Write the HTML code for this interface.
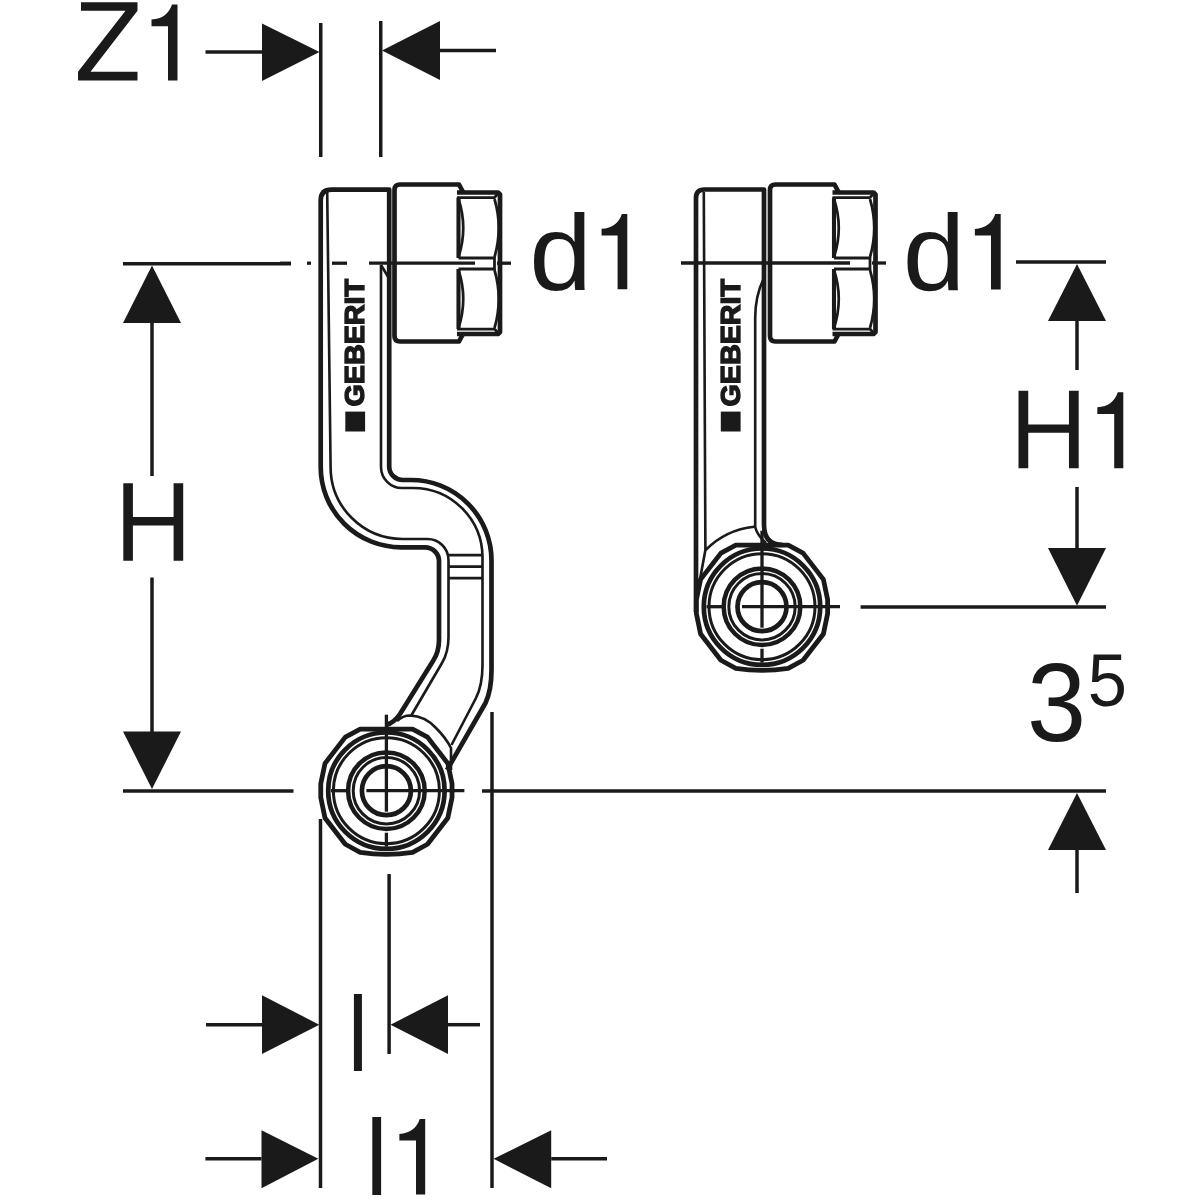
<!DOCTYPE html>
<html><head><meta charset="utf-8"><style>
html,body{margin:0;padding:0;background:#fff;}
svg{display:block;will-change:transform;}
text{font-family:"Liberation Sans",sans-serif;fill:#1a1a1a;}
</style></head><body>
<svg width="1200" height="1200" viewBox="0 0 1200 1200">
<rect width="1200" height="1200" fill="#fff"/>
<g fill="none" stroke="#1a1a1a" stroke-linecap="butt" stroke-linejoin="round">
<line x1="205.5" y1="52" x2="262" y2="52" stroke-width="3.5"/>
<polygon points="262,23.5 262,81 319.5,52" fill="#1a1a1a" stroke="none"/>
<line x1="320.75" y1="23" x2="320.75" y2="157" stroke-width="3.5"/>
<line x1="380.75" y1="21" x2="380.75" y2="157" stroke-width="3.5"/>
<polygon points="382,50.5 440,21 440,80" fill="#1a1a1a" stroke="none"/>
<line x1="440" y1="50.5" x2="496" y2="50.5" stroke-width="3.5"/>
<line x1="123" y1="263.7" x2="291" y2="263.7" stroke-width="3.5"/>
<polygon points="152,265.5 123,323 181,323" fill="#1a1a1a" stroke="none"/>
<line x1="152" y1="322" x2="152" y2="476" stroke-width="3.5"/>
<line x1="152" y1="577.5" x2="152" y2="732" stroke-width="3.5"/>
<polygon points="123,731.5 181,731.5 152,789" fill="#1a1a1a" stroke="none"/>
<line x1="123" y1="791" x2="293.5" y2="791" stroke-width="3.5"/>
<line x1="1016" y1="262" x2="1106" y2="262" stroke-width="3.5"/>
<polygon points="1077,264 1048,321 1106,321" fill="#1a1a1a" stroke="none"/>
<line x1="1077" y1="321" x2="1077" y2="370" stroke-width="3.5"/>
<line x1="1077" y1="487" x2="1077" y2="548" stroke-width="3.5"/>
<polygon points="1048,548 1106,548 1077,605.7" fill="#1a1a1a" stroke="none"/>
<line x1="860.6" y1="607" x2="1106" y2="607" stroke-width="3.5"/>
<line x1="482" y1="791" x2="1106" y2="791" stroke-width="3.5"/>
<polygon points="1077,793 1048,850 1106,850" fill="#1a1a1a" stroke="none"/>
<line x1="1077" y1="850" x2="1077" y2="893" stroke-width="3.5"/>
<line x1="320.5" y1="819" x2="320.5" y2="1188" stroke-width="3.5"/>
<line x1="492" y1="712" x2="492" y2="1188" stroke-width="3.5"/>
<line x1="389.1" y1="874" x2="389.1" y2="1054" stroke-width="3.5"/>
<line x1="206" y1="1024.7" x2="262" y2="1024.7" stroke-width="3.5"/>
<polygon points="262,995.3 262,1054 319.3,1024.7" fill="#1a1a1a" stroke="none"/>
<polygon points="390.5,1024.7 448,995.3 448,1054" fill="#1a1a1a" stroke="none"/>
<line x1="448" y1="1024.7" x2="480" y2="1024.7" stroke-width="3.5"/>
<line x1="205.4" y1="1158.8" x2="261.5" y2="1158.8" stroke-width="3.5"/>
<polygon points="261.5,1130.2 261.5,1188.2 318.3,1158.8" fill="#1a1a1a" stroke="none"/>
<polygon points="493.6,1158.8 551.2,1130.2 551.2,1188.2" fill="#1a1a1a" stroke="none"/>
<line x1="551.2" y1="1158.8" x2="607" y2="1158.8" stroke-width="3.5"/>
<path d="M463,192 L459,184.5 H400 Q394.5,184.5 394.5,190 V336 Q394.5,341.5 400,341.5 H459 L463,334" stroke-width="4.7"/>
<path d="M457,192.5 H498 L500,194.5 V332 L498,334 H457" stroke-width="4.7"/>
<path d="M457,197.5 H495 M457,329 H495 M494.5,257 V270 M494.5,197.5 L499,192.5 M494.5,329 L499,334" stroke-width="2.75"/>
<path d="M458.5,197.5 V258 M458.5,269 V329" stroke-width="4.1"/>
<path d="M458.5,258 H494.5 M458.5,269 H494.5" stroke-width="3.0"/>
<path d="M458.5,199 Q468,228 458.5,257 M494.5,199 Q503,228 494.5,257" stroke-width="2.75"/>
<path d="M458.5,270 Q468,299 458.5,328 M494.5,270 Q503,299 494.5,328" stroke-width="2.75"/>
<path d="M838.5,192 L834.5,184.5 H775.5 Q770.0,184.5 770.0,190 V336 Q770.0,341.5 775.5,341.5 H834.5 L838.5,334" stroke-width="4.7"/>
<path d="M832.5,192.5 H873.5 L875.5,194.5 V332 L873.5,334 H832.5" stroke-width="4.7"/>
<path d="M832.5,197.5 H870.5 M832.5,329 H870.5 M870.0,257 V270 M870.0,197.5 L874.5,192.5 M870.0,329 L874.5,334" stroke-width="2.75"/>
<path d="M834.0,197.5 V258 M834.0,269 V329" stroke-width="4.1"/>
<path d="M834.0,258 H870.0 M834.0,269 H870.0" stroke-width="3.0"/>
<path d="M834.0,199 Q843.5,228 834.0,257 M870.0,199 Q878.5,228 870.0,257" stroke-width="2.75"/>
<path d="M834.0,270 Q843.5,299 834.0,328 M870.0,270 Q878.5,299 870.0,328" stroke-width="2.75"/>
<path d="M320.7,467 V200.5 Q320.7,189.6 331.5,189.6 H389.2 V467 A13.5,13.5 0 0 0 403,480 H411 A80.5,80.5 0 0 1 491.5,560.5 V670 Q491.5,690 485.5,703 L447,770" stroke-width="4.7"/>
<path d="M320.7,467 A80.3,80.3 0 0 0 401,547.3 H425 A14,14 0 0 1 439,561 V640 Q439,652 433,661 L400,714 Q394,723 386,725" stroke-width="4.7"/>
<path d="M327.2,192 L330.6,467 A72,72 0 0 0 403,539 H427 A21,21 0 0 1 448.5,560 V637 Q448.5,652 442,663 L411,716" stroke-width="2.62"/>
<path d="M381,265 V467 A21,21 0 0 0 402,488 H413 A69.5,69.5 0 0 1 482.5,557 V665 Q482.5,685 476,698 L451.5,745" stroke-width="2.62"/>
<path d="M381,265 L390,280" stroke-width="2.62"/>
<path d="M448.5,555 H482.5 M448.5,566.5 H482.5 M448.5,578 H482.5" stroke-width="2.75"/>
<path d="M397,721 Q403,715.5 410,715.5 Q425,716 436,728 Q446,738 451,748 V770" stroke-width="2.62"/>
<path d="M696,612 V198 Q696,189.5 704.5,189.5 H764 V525 Q764,545 783,545" stroke-width="4.7"/>
<path d="M703.8,192 L705.4,550 L698,590" stroke-width="2.62"/>
<path d="M763.5,279 Q755.2,296 755.2,318 V527 Q757,535 766,543" stroke-width="2.62"/>
<path d="M754.2,526.7 A80,80 0 0 0 705.6,550" stroke-width="2.62"/>
<path d="M412.58,729.03 L427.49,737.15 L447.79,763.37 L452.04,783.80 L452.04,797.60 L447.79,818.03 L427.49,844.25 L412.58,852.37 A170,170 0 0 1 360.22,852.37 L345.31,844.25 L325.01,818.03 L320.76,797.60 L320.76,783.80 L325.01,763.37 L345.31,737.15 L360.22,729.03 Z" stroke-width="4.8"/>
<circle cx="386.4" cy="790.7" r="58.2" stroke-width="4.7"/>
<circle cx="386.4" cy="790.7" r="53" stroke-width="3.0"/>
<circle cx="386.4" cy="790.7" r="38.3" stroke-width="4.5"/>
<circle cx="386.4" cy="790.7" r="33.2" stroke-width="3.0"/>
<circle cx="386.4" cy="790.7" r="24.5" stroke-width="4.7"/>
<line x1="330.9" y1="790.7" x2="346.9" y2="790.7" stroke-width="3.3"/>
<line x1="366.4" y1="790.7" x2="464.4" y2="790.7" stroke-width="3.3"/>
<line x1="386.4" y1="714.7" x2="386.4" y2="811.7" stroke-width="3.3"/>
<line x1="386.4" y1="832.7" x2="386.4" y2="846.7" stroke-width="3.3"/>
<path d="M788.18,545.03 L803.09,553.15 L823.39,579.37 L827.64,599.80 L827.64,613.60 L823.39,634.03 L803.09,660.25 L788.18,668.37 A170,170 0 0 1 735.82,668.37 L720.91,660.25 L700.61,634.03 L696.36,613.60 L696.36,599.80 L700.61,579.37 L720.91,553.15 L735.82,545.03 Z" stroke-width="4.8"/>
<circle cx="762" cy="606.7" r="58.2" stroke-width="4.7"/>
<circle cx="762" cy="606.7" r="53" stroke-width="3.0"/>
<circle cx="762" cy="606.7" r="38.3" stroke-width="4.5"/>
<circle cx="762" cy="606.7" r="33.2" stroke-width="3.0"/>
<circle cx="762" cy="606.7" r="24.5" stroke-width="4.7"/>
<line x1="706.5" y1="606.7" x2="722.5" y2="606.7" stroke-width="3.3"/>
<line x1="742" y1="606.7" x2="840" y2="606.7" stroke-width="3.3"/>
<line x1="762" y1="530.7" x2="762" y2="627.7" stroke-width="3.3"/>
<line x1="762" y1="648.7" x2="762" y2="662.7" stroke-width="3.3"/>
<line x1="280" y1="263.2" x2="291" y2="263.2" stroke-width="3.3"/>
<line x1="307" y1="263.2" x2="311" y2="263.2" stroke-width="3.3"/>
<line x1="332" y1="263.2" x2="347" y2="263.2" stroke-width="3.3"/>
<line x1="369" y1="263.2" x2="475" y2="263.2" stroke-width="3.3"/>
<line x1="497" y1="263.2" x2="511" y2="263.2" stroke-width="3.3"/>
<line x1="681" y1="263" x2="850" y2="263" stroke-width="3.3"/>
<line x1="872" y1="263" x2="886" y2="263" stroke-width="3.3"/>
</g>
<path d="M81,2.2 H137.5 V10.8 L90.5,71.8 H137.5 V80.5 H78 V71.8 L125.5,10.8 H81 Z" fill="#1a1a1a"/>
<path d="M177.50,4.50 V80.50 H168.00 V26.20 H151.50 V19.50 C162.50,19.00 169.00,13.50 172.00,4.50 Z" fill="#1a1a1a"/>
<text transform="matrix(1.12667 0 0 1.07075 529.212 289.629)" font-size="100" font-weight="normal">d</text>
<path d="M627.30,214.00 V289.30 H617.60 V235.50 H601.54 V228.86 C612.44,228.37 618.88,222.92 621.85,214.00 Z" fill="#1a1a1a"/>
<text transform="matrix(1.12222 0 0 1.07483 902.731 289.925)" font-size="100" font-weight="normal">d</text>
<path d="M1000.70,214.00 V289.50 H991.00 V235.56 H974.87 V228.90 C985.80,228.40 992.26,222.94 995.24,214.00 Z" fill="#1a1a1a"/>
<path d="M123.3,483.3 H132.9 V517.10 H173.6 V483.3 H183.2 V560.8 H173.6 V525.40 H132.9 V560.8 H123.3 Z" fill="#1a1a1a"/>
<path d="M1018.5,390.7 H1028.25 V424.50 H1068.95 V390.7 H1078.7 V468.2 H1068.95 V432.80 H1028.25 V468.2 H1018.5 Z" fill="#1a1a1a"/>
<path d="M1123.30,392.30 V468.20 H1114.20 V413.97 H1097.33 V407.28 C1108.32,406.78 1114.81,401.29 1117.81,392.30 Z" fill="#1a1a1a"/>
<text transform="matrix(1.06316 0 0 1.10954 1027.013 741.390)" font-size="100" font-weight="normal">3</text>
<text transform="matrix(0.70526 0 0 0.73835 1087.679 705.762)" font-size="100" font-weight="normal">5</text>
<text transform="matrix(0.91429 0 0 1.06621 347.829 1070.800)" font-size="100" font-weight="normal">l</text>
<text transform="matrix(1.00571 0 0 1.07172 365.411 1194.500)" font-size="100" font-weight="normal">l</text>
<path d="M425.20,1119.00 V1194.50 H416.00 V1140.56 H399.37 V1133.90 C410.30,1133.40 416.76,1127.94 419.74,1119.00 Z" fill="#1a1a1a"/>
<text transform="matrix(0 -0.28692 0.26996 0 364.430 406.448)" font-size="100" font-weight="bold" stroke="#1a1a1a" stroke-width="5" stroke-linejoin="miter">GEBERIT</text>
<rect x="345.3" y="411.6" width="19.8" height="19.9" fill="#1a1a1a"/>
<text transform="matrix(0 -0.28692 0.26996 0 739.930 406.448)" font-size="100" font-weight="bold" stroke="#1a1a1a" stroke-width="5" stroke-linejoin="miter">GEBERIT</text>
<rect x="720.8" y="411.6" width="19.8" height="19.9" fill="#1a1a1a"/>
</svg>
</body></html>
